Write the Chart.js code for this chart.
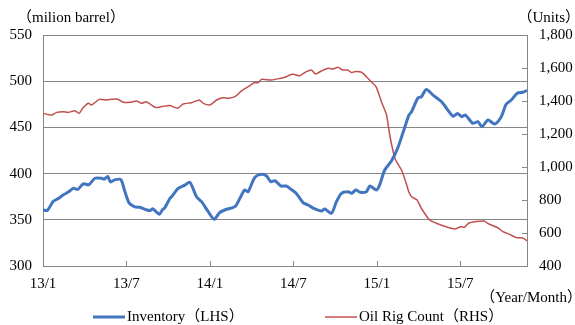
<!DOCTYPE html>
<html>
<head>
<meta charset="utf-8">
<script src="https://cdn.jsdelivr.net/npm/chart.js@4.4.1/dist/chart.umd.min.js"></script>
<style>
html,body{margin:0;padding:0;background:#fff;}
#wrap{width:575px;height:325px;position:relative;}
</style>
</head>
<body>
<div id="wrap"><canvas id="c" width="575" height="325"></canvas></div>
<script>
// ---- Data (x = months since Jan 2013) ----
const xTickMonths = [0, 6, 12, 18, 24, 30];
const xTickLabels = ['13/1', '13/7', '14/1', '14/7', '15/1', '15/7'];

const inventoryMonths = [0.0,0.3,0.74,1.1,1.46,1.82,2.18,2.5,2.9,3.3,3.74,4.2,4.4,4.65,4.85,5.2,5.6,5.9,6.2,6.6,6.97,7.4,7.7,7.9,8.05,8.36,8.6,8.76,9.12,9.25,9.72,10.2,10.56,11.04,11.4,11.88,12.3,12.7,13.2,13.8,14.15,14.5,14.75,15.23,15.71,16.07,16.38,16.67,17.1,17.5,17.74,18.2,18.7,19.06,19.54,20.02,20.26,20.74,21.1,21.46,21.93,22.2,22.5,22.8,23.25,23.5,23.97,24.2,24.57,25.05,25.5,25.9,26.3,26.5,26.96,27.2,27.56,28.04,28.64,29.0,29.5,29.8,30.12,30.37,30.9,31.27,31.56,32.0,32.47,32.95,33.3,33.67,34.1,34.5,34.8];
const inventoryValues = [361,360,370,373,377,380,384,383,389,388,395,395,394,397,391,393.5,393.5,380,368,364,363.5,361,360,362,360,356,361,363,373,375,384,387.6,390.6,375,369.6,358.8,350.5,357.7,361.4,364.2,373,382.3,380.4,396,399.2,397.4,391.3,392.3,386.6,386.6,384,378.7,368.6,366,361.7,359.5,361.7,357,369.6,378.7,380.4,378.7,382.3,379.8,380.4,386.6,382.3,387.6,403.9,413.6,427.4,445,463,467,482,483,491,485,478,471,462,465,461.6,463.4,454.4,456.2,450.8,458,453.7,461.6,475,479.6,487,488,490];

const rigMonths = [0,0.62,0.98,1.46,1.82,2.3,2.6,2.85,3.26,3.5,4.05,4.57,4.93,5.34,5.77,6.25,6.73,7.09,7.4,7.69,8.12,8.53,9.12,9.67,10.08,10.68,11.23,11.52,12.0,12.48,12.95,13.3,13.8,14.27,14.75,15.18,15.47,15.71,16.43,17.03,17.5,17.74,18.0,18.46,18.94,19.3,19.6,20.02,20.5,20.86,21.2,21.57,21.9,22.18,22.4,22.9,23.25,23.6,23.97,24.33,24.7,24.93,25.3,25.77,26.08,26.3,26.5,26.9,27.2,27.8,28.28,28.76,29.6,30.03,30.3,30.6,31.15,31.7,32.1,32.7,33.07,33.55,34.03,34.5,34.82];
const rigValues = [1325,1315,1331,1335,1331,1341,1325,1356,1386,1376,1410,1406,1410,1412,1392,1392,1400,1386,1396,1382,1360,1366,1372,1356,1382,1390,1406,1386,1376,1406,1420,1416,1426,1461,1487,1511,1511,1531,1527,1537,1547,1558,1562,1553,1578,1588,1564,1582,1598,1594,1604,1588,1588,1572,1578,1574,1547,1517,1483,1396,1315,1194,1053,982,911,850,820,800,750,679,659,644,624,638,634,659,669,673,653,632,608,592,572,570,553];

const leftTitle = '（milion barrel）';
const rightTitle = '（Units）';
const xTitle = '（Year/Month）';
const seriesNames = ['Inventory（LHS）', 'Oil Rig Count（RHS）'];

// ---- Styles ----
const FONT = "'Liberation Serif', 'Noto Sans CJK JP', serif";
const BLUE = '#4275bf';
const RED = '#c0504d';
const GRID = '#868686';

const toPts = (xs, ys) => xs.map((x, i) => ({x: x, y: ys[i]}));

const decor = {
  id: 'decor',
  afterDraw(chart) {
    const ctx = chart.ctx;
    const a = chart.chartArea;
    const xs = chart.scales.x, yr = chart.scales.y1;
    ctx.save();
    // inside tick marks
    ctx.strokeStyle = GRID;
    ctx.lineWidth = 1;
    ctx.beginPath();
    xTickMonths.forEach(m => {
      const px = Math.round(xs.getPixelForValue(m)) + 0.5;
      ctx.moveTo(px, a.bottom);
      ctx.lineTo(px, a.bottom - 5);
    });
    yr.ticks.forEach(t => {
      const py = Math.round(yr.getPixelForValue(t.value)) + 0.5;
      ctx.moveTo(a.right, py);
      ctx.lineTo(a.right - 5, py);
    });
    ctx.stroke();
    // titles
    ctx.fillStyle = '#000';
    ctx.font = '15px ' + FONT;
    ctx.textBaseline = 'middle';
    ctx.textAlign = 'left';
    ctx.fillText(leftTitle, 17, 18);
    ctx.textAlign = 'right';
    ctx.fillText(rightTitle, 580, 18);
    ctx.fillText(xTitle, 582, 298);
    // legend
    const ly = 317;
    const items = [
      {x: 93, color: BLUE, w: 3, text: seriesNames[0]},
      {x: 325, color: RED, w: 1.5, text: seriesNames[1]}
    ];
    items.forEach(it => {
      ctx.strokeStyle = it.color;
      ctx.lineWidth = it.w;
      ctx.beginPath();
      ctx.moveTo(it.x, ly);
      ctx.lineTo(it.x + 32, ly);
      ctx.stroke();
      ctx.textAlign = 'left';
      ctx.fillText(it.text, it.x + 34, ly);
    });
    ctx.restore();
  }
};

new Chart(document.getElementById('c'), {
  type: 'line',
  data: {
    datasets: [
      {label: seriesNames[0], data: toPts(inventoryMonths, inventoryValues), yAxisID: 'y',
       borderColor: BLUE, borderWidth: 3, pointRadius: 0, tension: 0.25, fill: false},
      {label: seriesNames[1], data: toPts(rigMonths, rigValues), yAxisID: 'y1',
       borderColor: RED, borderWidth: 1.5, pointRadius: 0, tension: 0.2, fill: false}
    ]
  },
  options: {
    responsive: false,
    animation: false,
    devicePixelRatio: 1,
    layout: {padding: {left: 0, right: 0, top: 35, bottom: 0}},
    plugins: {legend: {display: false}, tooltip: {enabled: false}},
    scales: {
      x: {
        type: 'linear', min: 0, max: 34.8,
        afterBuildTicks: s => { s.ticks = xTickMonths.map(v => ({value: v})); },
        afterFit: s => { s.height = 59; },
        grid: {display: true, drawOnChartArea: false, drawTicks: false},
        border: {display: true, color: GRID, width: 1},
        ticks: {
          padding: 9, color: '#000', font: {family: FONT, size: 15}, maxRotation: 0,
          callback: v => { const i = xTickMonths.indexOf(v); return i >= 0 ? xTickLabels[i] : ''; }
        }
      },
      y: {
        position: 'left', min: 300, max: 550,
        afterFit: s => { s.width = 43; },
        grid: {color: GRID, lineWidth: 1, drawTicks: false},
        border: {display: true, color: GRID, width: 1},
        ticks: {stepSize: 50, padding: 11, color: '#000', font: {family: FONT, size: 15}}
      },
      y1: {
        position: 'right', min: 400, max: 1800,
        afterFit: s => { s.width = 48; },
        grid: {drawOnChartArea: false, drawTicks: false},
        border: {display: true, color: GRID, width: 1},
        ticks: {stepSize: 200, padding: 12, color: '#000', font: {family: FONT, size: 15},
          callback: v => v.toLocaleString('en-US')}
      }
    }
  },
  plugins: [decor]
});
</script>
</body>
</html>
